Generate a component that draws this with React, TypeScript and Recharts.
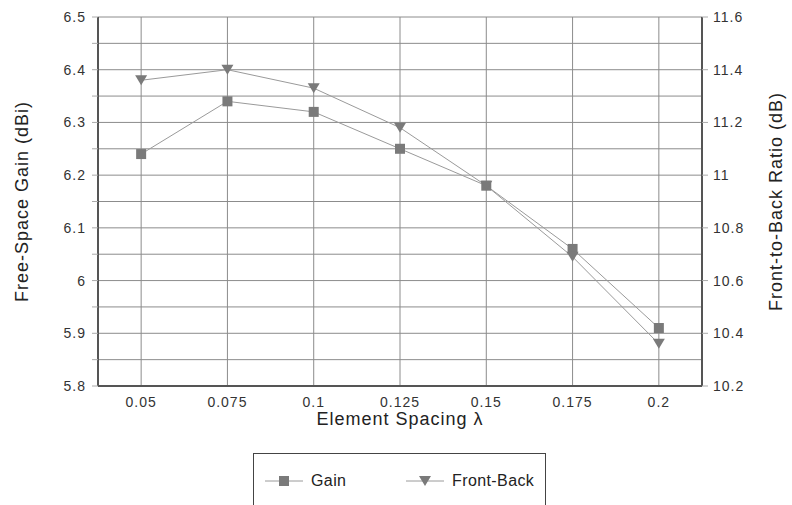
import React from "react";
import {
  LineChart,
  Line,
  XAxis,
  YAxis,
  CartesianGrid,
} from "recharts";

const spacing = [0.05, 0.075, 0.1, 0.125, 0.15, 0.175, 0.2];
const gain = [6.24, 6.34, 6.32, 6.25, 6.18, 6.06, 5.91];
const frontBack = [11.36, 11.4, 11.33, 11.18, 10.96, 10.69, 10.36];

const gainTicks = [
  5.8, 5.85, 5.9, 5.95, 6, 6.05, 6.1, 6.15, 6.2, 6.25, 6.3, 6.35, 6.4, 6.45, 6.5,
];
const ratioTicks = [10.2, 10.4, 10.6, 10.8, 11, 11.2, 11.4, 11.6];

const FONT = "'Liberation Sans', Arial, sans-serif";
const LINE = "#9a9a9a";
const MARK = "#7a7a7a";

const data = spacing.map((s, i) => ({
  spacing: s,
  gain: gain[i],
  frontBack: frontBack[i],
}));

const gainLabel = (v: number) => {
  const major = Math.round(v * 100) % 10 === 0;
  return major ? String(parseFloat(v.toFixed(1))) : "";
};

const SquareDot = (props: any) => {
  const { cx, cy, index } = props;
  if (cx == null || cy == null) return null;
  return (
    <rect key={`sq-${index}`} x={cx - 5} y={cy - 5} width={10} height={10} fill={MARK} />
  );
};

const TriangleDot = (props: any) => {
  const { cx, cy, index } = props;
  if (cx == null || cy == null) return null;
  return (
    <polygon
      key={`tr-${index}`}
      points={`${cx - 6},${cy - 5} ${cx + 6},${cy - 5} ${cx},${cy + 5}`}
      fill={MARK}
    />
  );
};

const tickStyle = { fontSize: 14, fill: "#333", fontFamily: FONT, letterSpacing: 1 };
const titleStyle = {
  fontSize: 18,
  fill: "#222",
  fontFamily: FONT,
  letterSpacing: 1,
  textAnchor: "middle" as const,
};

export default function App() {
  return (
    <div style={{ position: "absolute", left: 0, top: 0, width: 792, height: 505, background: "#fff", fontFamily: FONT }}>
      <LineChart
        width={792}
        height={505}
        data={data}
        margin={{ top: 17, right: 0, bottom: 74, left: 0 }}
      >
        <CartesianGrid stroke="#8c8c8c" strokeWidth={1} />
        <XAxis
          dataKey="spacing"
          type="number"
          domain={[0.0375, 0.2125]}
          ticks={spacing}
          tickFormatter={(v: number) => String(v)}
          tickLine={false}
          tickSize={6}
          tickMargin={5}
          height={45}
          axisLine={{ stroke: "#555", strokeWidth: 2 }}
          tick={tickStyle}
          label={{ value: "Element Spacing λ", position: "insideBottom", offset: 6, style: titleStyle }}
        />
        <YAxis
          domain={[5.8, 6.5]}
          ticks={gainTicks}
          tickFormatter={gainLabel}
          interval={0}
          width={98}
          tickSize={6}
          tickMargin={6}
          tickLine={{ stroke: "#aaa" }}
          axisLine={{ stroke: "#555", strokeWidth: 2 }}
          tick={tickStyle}
          label={{ value: "Free-Space Gain (dBi)", angle: -90, position: "insideLeft", offset: 22, style: titleStyle }}
        />
        <YAxis
          yAxisId="right"
          orientation="right"
          domain={[10.2, 11.6]}
          ticks={ratioTicks}
          tickFormatter={(v: number) => String(parseFloat(v.toFixed(1)))}
          interval={0}
          width={90}
          tickSize={6}
          tickMargin={5}
          tickLine={{ stroke: "#aaa" }}
          axisLine={{ stroke: "#555", strokeWidth: 2 }}
          tick={tickStyle}
          label={{ value: "Front-to-Back Ratio (dB)", angle: -90, position: "insideRight", offset: 16, style: titleStyle }}
        />
        <Line
          dataKey="gain"
          stroke={LINE}
          strokeWidth={1}
          dot={SquareDot}
          activeDot={false}
          isAnimationActive={false}
        />
        <Line
          dataKey="frontBack"
          yAxisId="right"
          stroke={LINE}
          strokeWidth={1}
          dot={TriangleDot}
          activeDot={false}
          isAnimationActive={false}
        />
      </LineChart>
      <div
        style={{
          position: "absolute",
          left: 253,
          top: 453,
          width: 293,
          height: 60,
          border: "1px solid #444",
          boxSizing: "border-box",
          fontSize: 16,
          letterSpacing: 0.4,
          color: "#222",
        }}
      >
        <div style={{ position: "absolute", left: 11, top: 18, display: "flex", alignItems: "center" }}>
          <svg width={40} height={14}>
            <line x1={0} y1={7} x2={38} y2={7} stroke={LINE} />
            <rect x={14} y={2} width={10} height={10} fill={MARK} />
          </svg>
          <span style={{ marginLeft: 6 }}>Gain</span>
        </div>
        <div style={{ position: "absolute", left: 152, top: 18, display: "flex", alignItems: "center" }}>
          <svg width={40} height={14}>
            <line x1={0} y1={7} x2={38} y2={7} stroke={LINE} />
            <polygon points="13,2 25,2 19,12" fill={MARK} />
          </svg>
          <span style={{ marginLeft: 6 }}>Front-Back</span>
        </div>
      </div>
    </div>
  );
}
